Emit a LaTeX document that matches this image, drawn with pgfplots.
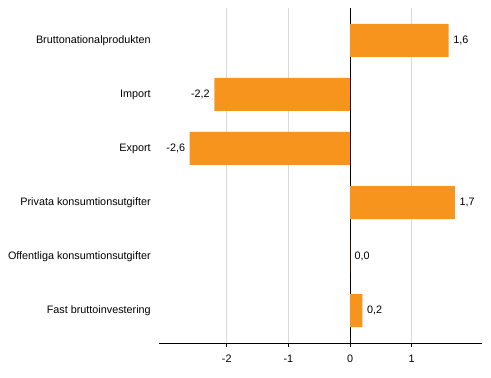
\documentclass[border=0pt]{standalone}
\usepackage{pgfplots}
\pgfplotsset{compat=1.18}
\usepackage{fontspec}
\setmainfont{Liberation Sans}
\definecolor{barorange}{HTML}{F7941D}
\definecolor{gridgray}{HTML}{D9D9D9}
\begin{document}
\fontsize{10.8bp}{12bp}\selectfont
\begin{tikzpicture}
\begin{axis}[
  xbar, bar width=33bp,
  width=322.5bp, height=335bp, scale only axis,
  xmin=-3.09, xmax=2.14, ymin=-0.6, ymax=5.6,
  xtick={-2,-1,0,1},
  ytick={0,1,2,3,4,5},
  yticklabels={Fast bruttoinvestering, Offentliga konsumtionsutgifter, Privata konsumtionsutgifter, Export, Import, Bruttonationalprodukten},
  axis x line*=bottom, axis y line*=left,
  y axis line style={draw=none},
  ytick style={draw=none},
  x axis line style={black, line width=0.9bp},
  xtick style={black, line width=0.8bp},
  tick align=outside, major tick length=4bp,
  xmajorgrids, major grid style={gridgray, line width=0.9bp},
  extra x ticks={0}, extra x tick labels={},
  extra x tick style={grid=major, major grid style={black, line width=1bp}, major tick length=0pt},
  /pgf/number format/assume math mode=true,
  every tick label/.append style={font=\fontsize{10.8bp}{12bp}\selectfont},
  yticklabel style={xshift=-1bp},
  xticklabel style={yshift=-4bp},
  nodes near coords={\pgfmathprintnumber[fixed,fixed zerofill,precision=1,use comma,assume math mode=true]{\pgfplotspointmeta}},
  nodes near coords style={font=\fontsize{10.8bp}{12bp}\selectfont, black, inner sep=4.5bp},
  nodes near coords align={horizontal},
  clip=false,
]
\addplot[fill=barorange, draw=none] coordinates {
  (0.2,0) (0.0,1) (1.7,2) (-2.6,3) (-2.2,4) (1.6,5)
};
\end{axis}
\path (current axis.south west) ++(-159.5bp,-35bp) -- ++(491bp,378bp);
\end{tikzpicture}
\end{document}
